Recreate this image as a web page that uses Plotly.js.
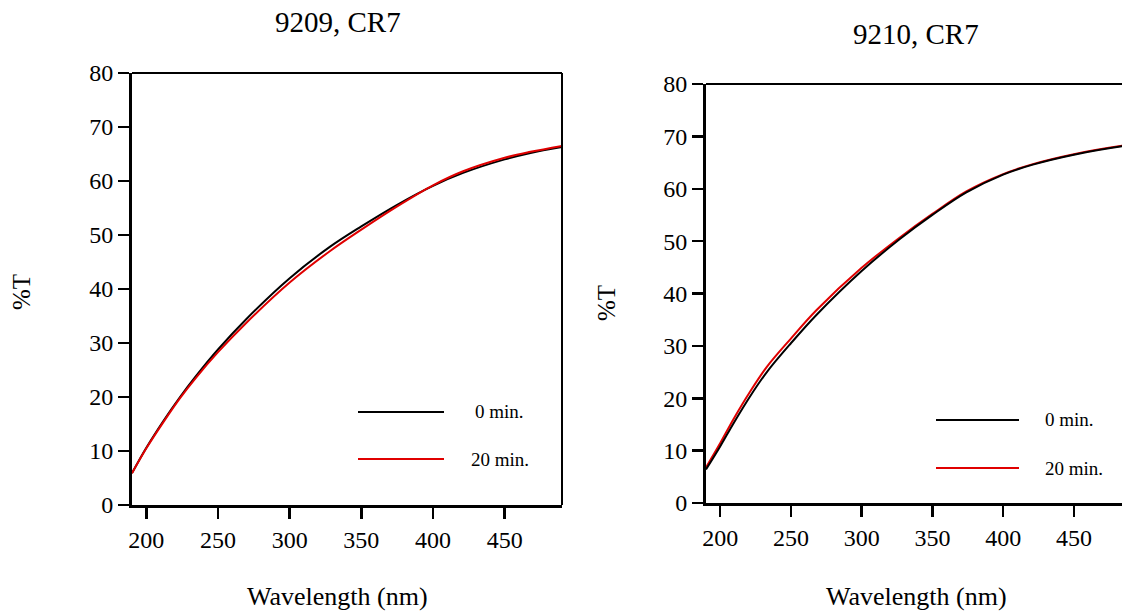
<!DOCTYPE html>
<html>
<head>
<meta charset="utf-8">
<script src="https://cdn.plot.ly/plotly-3.0.1.min.js"></script>
<style>html,body{margin:0;padding:0;background:#fff;}#chart{width:1122px;height:616px;}</style>
</head>
<body>
<div id="chart"></div>
<script>
// Left panel: sample 9209, CR7
const wlLeft = [190, 200, 212, 223.5, 235, 250, 270, 300, 328, 350, 375, 400, 421, 450, 468, 490];
const t9209_0min = [5.9, 10.6, 15.6, 20.0, 24.0, 28.8, 34.5, 42.0, 47.8, 51.6, 55.6, 59.1, 61.5, 64.0, 65.2, 66.3];
const t9209_20min = [5.9, 10.5, 15.4, 19.8, 23.7, 28.3, 33.8, 41.2, 47.0, 51.0, 55.3, 59.2, 61.8, 64.3, 65.4, 66.5];

// Right panel: sample 9210, CR7
const wlRight = [190, 200, 209.4, 221, 233, 250, 268, 300, 327, 350, 374, 400, 421, 450, 484, 490];
const t9210_0min = [6.4, 10.8, 15.2, 20.3, 25.0, 30.5, 35.9, 44.3, 50.4, 55.0, 59.3, 62.7, 64.6, 66.5, 68.1, 68.3];
const t9210_20min = [6.8, 11.4, 16.0, 21.2, 26.0, 31.4, 36.8, 44.9, 50.7, 55.2, 59.5, 62.8, 64.7, 66.6, 68.2, 68.4];

const panelTitles = ["9209, CR7", "9210, CR7"];
const seriesNames = ["0 min.", "20 min."];
const xTicks = [200, 250, 300, 350, 400, 450];
const yTicks = [0, 10, 20, 30, 40, 50, 60, 70, 80];

const W = 1122, H = 616;
const px = v => v / W;
const py = v => 1 - v / H;
const FONT = "Liberation Serif";

const lineStyle = (c) => ({color: c, width: 2, shape: 'spline', smoothing: 1});

const traces = [
  {x: wlLeft, y: t9209_0min, mode: 'lines', line: lineStyle('#000000'), xaxis: 'x', yaxis: 'y', name: seriesNames[0]},
  {x: wlLeft, y: t9209_20min, mode: 'lines', line: lineStyle('#e00000'), xaxis: 'x', yaxis: 'y', name: seriesNames[1]},
  {x: wlRight, y: t9210_20min, mode: 'lines', line: lineStyle('#e00000'), xaxis: 'x2', yaxis: 'y2', name: seriesNames[1]},
  {x: wlRight, y: t9210_0min, mode: 'lines', line: lineStyle('#000000'), xaxis: 'x2', yaxis: 'y2', name: seriesNames[0]}
];

function axis(extra) {
  return Object.assign({
    showgrid: false, zeroline: false, showline: true, linecolor: '#000', linewidth: 3,
    ticks: 'outside', ticklen: 11, tickwidth: 2.5, tickcolor: '#000',
    tickfont: {family: FONT, size: 24, color: '#000'}, fixedrange: true
  }, extra);
}

const L = {l: 132, r: 562, t: 73, b: 505};
const R = {l: 706, r: 1122, t: 84, b: 503};

function txt(text, x, y, size, opts) {
  return Object.assign({text: text, xref: 'paper', yref: 'paper', x: px(x), y: py(y),
    xanchor: 'center', yanchor: 'middle', showarrow: false,
    font: {family: FONT, size: size, color: '#000'}}, opts || {});
}
function seg(x0, x1, y0, y1, color, width) {
  return {type: 'line', xref: 'paper', yref: 'paper', x0: px(x0), x1: px(x1), y0: py(y0), y1: py(y1), line: {color: color, width: width}};
}

const layout = {
  width: W, height: H,
  margin: {l: 0, r: 0, t: 0, b: 0},
  paper_bgcolor: '#fff', plot_bgcolor: '#fff',
  showlegend: false,
  font: {family: FONT, color: '#000'},
  xaxis: axis({domain: [px(L.l), px(L.r)], range: [190, 490], tickvals: xTicks, anchor: 'y'}),
  yaxis: axis({domain: [py(L.b), py(L.t)], range: [0, 80], tickvals: yTicks, anchor: 'x'}),
  xaxis2: axis({domain: [px(R.l), 1], range: [190, 484], tickvals: xTicks, anchor: 'y2'}),
  yaxis2: axis({domain: [py(R.b), py(R.t)], range: [0, 80], tickvals: yTicks, anchor: 'x2'}),
  shapes: [
    seg(L.l, L.r, L.t, L.t, '#000', 2),
    seg(L.r, L.r, L.t, L.b, '#000', 2),
    seg(R.l, 1122, R.t, R.t, '#000', 2),
    seg(358, 444, 412, 412, '#000', 2),
    seg(358, 444, 459, 459, '#e00000', 2),
    seg(936, 1019, 420, 420, '#000', 2),
    seg(936, 1019, 468, 468, '#e00000', 2)
  ],
  annotations: [
    txt(panelTitles[0], 337.5, 22, 29),
    txt(panelTitles[1], 916, 34, 29),
    txt('Wavelength (nm)', 337, 596, 26),
    txt('Wavelength (nm)', 916, 596, 26),
    txt('%T', 21, 292, 25, {textangle: -90}),
    txt('%T', 607, 303, 25, {textangle: -90}),
    txt(seriesNames[0], 473, 412, 19, {xanchor: 'left'}),
    txt(seriesNames[1], 469, 459, 19, {xanchor: 'left'}),
    txt(seriesNames[0], 1043, 420, 19, {xanchor: 'left'}),
    txt(seriesNames[1], 1043, 468, 19, {xanchor: 'left'})
  ]
};

Plotly.newPlot('chart', traces, layout, {displayModeBar: false, staticPlot: true});
</script>
</body>
</html>
